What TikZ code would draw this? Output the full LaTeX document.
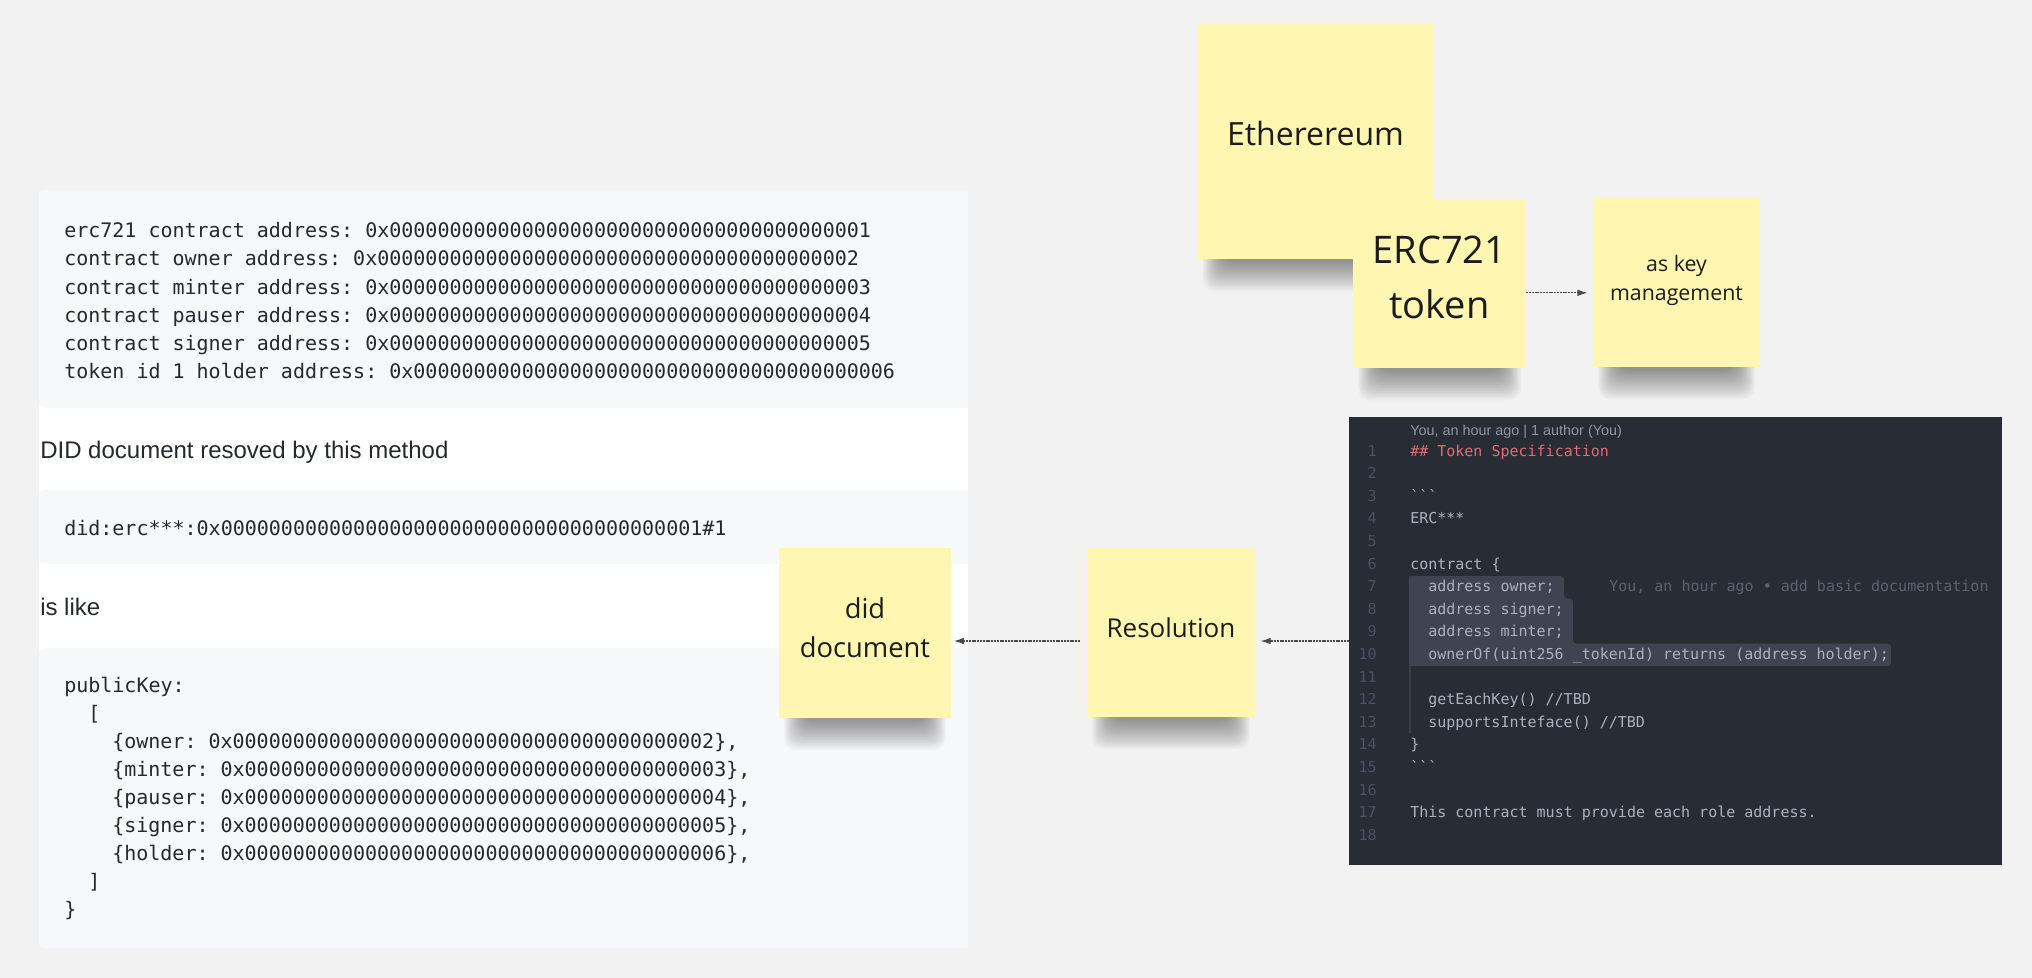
\documentclass[tikz,border=0pt]{standalone}
\usepackage{fontspec}
\setmainfont{Liberation Sans}
\setmonofont{DejaVu Sans Mono}
\newfontfamily\opensans{Open Sans}
\usetikzlibrary{arrows.meta}
\pgfdeclarelayer{back}
\pgfdeclarelayer{shade}
\pgfsetlayers{back,shade,main}
\definecolor{bgc}{HTML}{F2F2F2}
\definecolor{codeg}{HTML}{F6F8FA}
\definecolor{txtdark}{HTML}{24292E}
\definecolor{notey}{HTML}{FFF6B1}
\definecolor{notetext}{HTML}{1C1C1C}
\definecolor{edbg}{HTML}{282C34}
\definecolor{edsel}{HTML}{3E4451}
\definecolor{edfg}{HTML}{ABB2BF}
\definecolor{edred}{HTML}{E06C75}
\definecolor{ednum}{HTML}{495162}
\definecolor{edhdr}{HTML}{8F96A1}
\definecolor{edblame}{HTML}{5C6370}
\definecolor{edguide}{HTML}{3B4048}
\definecolor{connc}{HTML}{4A4A4A}
\def\zz{0000000000}
\newcommand\hexaddr[1]{0x\zz\zz\zz000000000#1}
\newcommand\btick{\symbol{96}\symbol{96}\symbol{96}}
\newcommand\noteshadow[1]{%
  \begin{pgfonlayer}{shade}
  \foreach \k in {1,...,16}
    \fill[black, opacity=0.028, rounded corners=9pt]
      ([shift={(4+1.3*\k,-30)}]#1.south west) rectangle ([shift={(-4-1.3*\k,34-1.9*\k)}]#1.south east);
  \end{pgfonlayer}}
\tikzset{
  mono/.style={font=\fontsize{15}{18}\selectfont\ttfamily, text=txtdark, inner sep=0pt, anchor=mid west},
  plain/.style={font=\fontsize{18}{22}\selectfont, text=txtdark, inner sep=0pt, anchor=mid west},
  edcode/.style={font=\fontsize{11.25}{14}\selectfont\ttfamily, text=edfg, inner sep=0pt, anchor=mid west},
  ednumst/.style={font=\fontsize{11.25}{14}\selectfont\ttfamily, text=ednum, inner sep=0pt, anchor=mid east},
  note/.style={fill=notey, inner sep=0pt, align=center, text=notetext},
  conn/.style={draw=connc, line width=0.9pt, dash pattern=on 1.5pt off 0.6pt, -{Latex[length=7.5pt,width=5pt]}}
}
\begin{document}
\begin{tikzpicture}[x=0.75pt,y=-0.75pt]
\useasboundingbox (0,0) rectangle (2032,978);
\begin{pgfonlayer}{back}
\fill[bgc] (0,0) rectangle (2032,978);
% ---------- left panel ----------
\begin{scope}
\clip (0,0) rectangle (968,978);
\fill[white, rounded corners=4pt] (39,190) rectangle (990,948);
\fill[codeg, rounded corners=4pt] (39,190) rectangle (990,408);
\fill[codeg, rounded corners=4pt] (39,490) rectangle (990,564);
\fill[codeg, rounded corners=4pt] (39,648) rectangle (990,948);
\end{scope}
\end{pgfonlayer}

\node[mono] (a1) at (64,234) {erc721 contract address: \hexaddr{1}};
\node[mono] (a2) at (64,262.3) {contract owner address: \hexaddr{2}};
\node[mono] (a3) at (64,290.6) {contract minter address: \hexaddr{3}};
\node[mono] (a4) at (64,318.6) {contract pauser address: \hexaddr{4}};
\node[mono] (a5) at (64,346.6) {contract signer address: \hexaddr{5}};
\node[mono] (a6) at (64,374.7) {token id 1 holder address: \hexaddr{6}};

\node[plain] (t1) at (40,455) {DID document resoved by this method};
\node[mono] (didline) at (64,532.3) {did:erc***:\hexaddr{1}\#1};
\node[plain] (t2) at (40,612) {is like};

\node[mono] (p1) at (64,689) {publicKey:};
\node[mono] (p2) at (88,717) {[};
\node[mono] (p3) at (112,745) {\{owner: \hexaddr{2}\},};
\node[mono] (p4) at (112,773) {\{minter: \hexaddr{3}\},};
\node[mono] (p5) at (112,801) {\{pauser: \hexaddr{4}\},};
\node[mono] (p6) at (112,829) {\{signer: \hexaddr{5}\},};
\node[mono] (p7) at (112,857) {\{holder: \hexaddr{6}\},};
\node[mono] (p8) at (88,885) {]};
\node[mono] (p9) at (64,913) {\}};

% ---------- editor ----------
\node[fill=edbg, minimum width=489.75pt, minimum height=336pt, inner sep=0pt] (code) at (1675.5,641) {};
\draw[edguide, line width=0.9pt] (1410,576) -- (1410,733);
\fill[edsel, rounded corners=2.5pt] (1409,576) -- (1564,576) -- (1564,598.4) -- (1573,598.4) -- (1573,643.6) -- (1891,643.6) -- (1891,666.2) -- (1409,666.2) -- cycle;
\node[font=\fontsize{10.8}{13}\selectfont, text=edhdr, inner sep=0pt, anchor=mid west] (hdr) at (1410,432) {You, an hour ago | 1 author (You)};
\foreach \i in {1,...,18}
  \node[ednumst] (n\i) at (1377,{452.5+22.6*(\i-1)}) {\i};
\node[edcode, text=edred] (c1) at (1410,452.5) {\#\# Token Specification};
\node[edcode] (c3) at (1410,497.7) {\btick};
\node[edcode] (c4) at (1410,520.3) {ERC***};
\node[edcode] (c6) at (1410,565.5) {contract \{};
\node[edcode] (c7) at (1428,588.1) {address owner;};
\node[edcode, text=edblame] (blame) at (1609,588.1) {You, an hour ago • add basic documentation};
\node[edcode] (c8) at (1428,610.7) {address signer;};
\node[edcode] (c9) at (1428,633.3) {address minter;};
\node[edcode] (c10) at (1428,655.9) {ownerOf(uint256 \_tokenId) returns (address holder);};
\node[edcode] (c12) at (1428,701.1) {getEachKey() //TBD};
\node[edcode] (c13) at (1428,723.7) {supportsInteface() //TBD};
\node[edcode] (c14) at (1410,746.3) {\}};
\node[edcode] (c15) at (1410,768.9) {\btick};
\node[edcode] (c17) at (1410,814.1) {This contract must provide each role address.};

% ---------- sticky notes ----------
\node[note, minimum width=176.25pt, minimum height=177pt, text depth=12pt,
      font=\opensans\fontsize{24}{30}\selectfont] (eth) at (1315.5,141) {Etherereum};
\noteshadow{eth}
\node[note, minimum width=129.75pt, minimum height=126.75pt, text depth=9pt,
      font=\opensans\fontsize{28.5}{41.25}\selectfont] (erc) at (1439.5,283.5) {ERC721\\token};
\noteshadow{erc}
\node[note, minimum width=125.25pt, minimum height=126.75pt, text depth=6.8pt,
      font=\opensans\fontsize{16}{21.75}\selectfont] (key) at (1676.5,282.5) {as key\\management};
\noteshadow{key}
\node[note, minimum width=126pt, minimum height=127.5pt, text depth=6pt,
      font=\opensans\fontsize{19.5}{24}\selectfont] (res) at (1171,632) {Resolution};
\noteshadow{res}
\node[note, minimum width=129pt, minimum height=127.5pt, text depth=7.5pt,
      font=\opensans\fontsize{20.5}{29.25}\selectfont] (did) at (865,633) {did\\document};
\noteshadow{did}

% ---------- connectors ----------
\draw[conn, shorten >=4pt] ([yshift=-7pt]erc.east) -- ([yshift=-7pt]erc.east -| key.west);
\draw[conn, shorten >=4pt] (code.west) -- (code.west -| res.east);
\draw[conn, shorten >=2pt, shorten <=5pt] (code.west -| res.west) -- (code.west -| did.east);
\end{tikzpicture}
\end{document}
